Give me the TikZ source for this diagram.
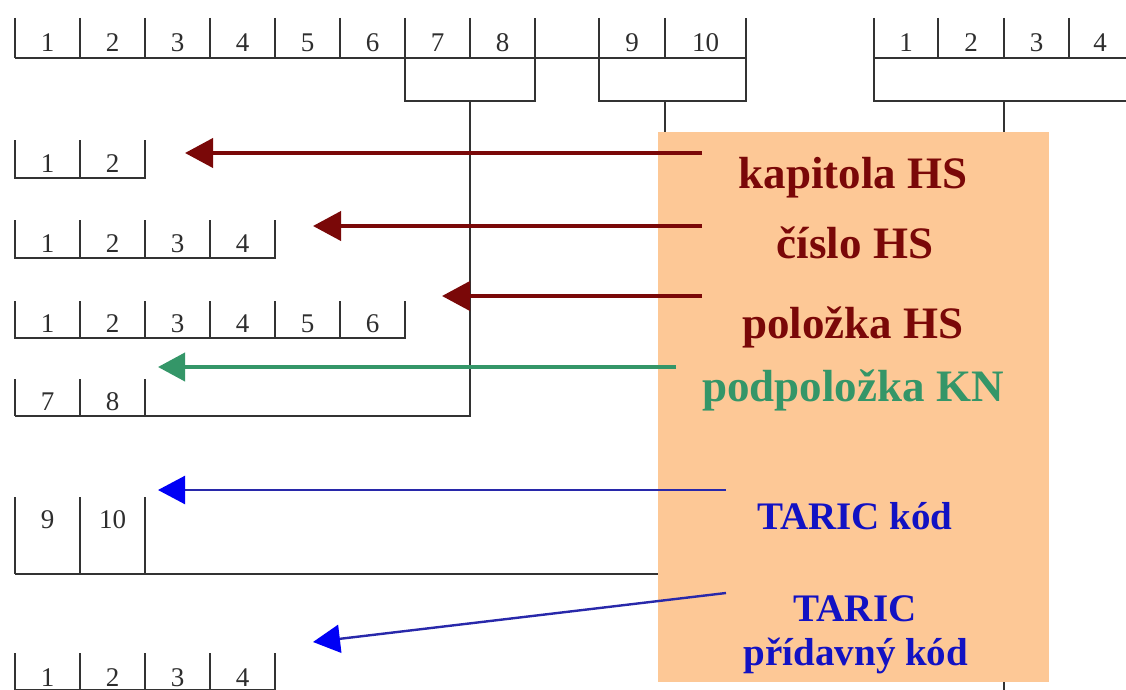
\documentclass[tikz,border=0pt]{standalone}
\usepackage{fontspec}
\setmainfont{Liberation Serif}
\usetikzlibrary{arrows.meta}
\definecolor{hsred}{RGB}{122,8,8}
\definecolor{kngreen}{RGB}{52,150,104}
\definecolor{taricblue}{RGB}{18,18,195}
\definecolor{taricline}{RGB}{40,40,170}
\definecolor{headblue}{RGB}{0,0,245}
\definecolor{boxfill}{RGB}{253,200,150}
\begin{document}
\begin{tikzpicture}[x=1pt,y=-1pt,
  ruler/.style={line width=1.4pt,draw=black!80},
  digit/.style={font=\fontsize{27}{27}\selectfont,text=black!82,anchor=base,inner sep=0pt},
  lbl/.style={font=\fontsize{45}{50}\selectfont\bfseries,anchor=base,inner sep=0pt},
  tlbl/.style={font=\fontsize{39}{44}\selectfont\bfseries,anchor=base,inner sep=0pt,text=taricblue},
  redarr/.style={draw=hsred,line width=4pt,-{Triangle[length=28pt,width=29pt]}},
  greenarr/.style={draw=kngreen,line width=4pt,-{Triangle[length=27pt,width=28pt]}},
  bluearr/.style={draw=taricline,line width=2.4pt,-{Triangle[length=27pt,width=28pt,color=headblue]}}
]
\useasboundingbox (0,0) rectangle (1126,690);
\fill[white] (0,0) rectangle (1126,690);

% ---------- top ruler (left part) ----------
\draw[ruler] (15,58) -- (746,58);
\foreach \x in {15,80,145,210,275,340,470} \draw[ruler] (\x,18) -- (\x,58);
\draw[ruler] (665,18) -- (665,58);
% bracket 7|8 with stem
\draw[ruler] (405,18) -- (405,101) -- (535,101) -- (535,18);
\draw[ruler] (470,101) -- (470,416) -- (15,416);
% bracket 9|10 with stem
\draw[ruler] (599,18) -- (599,101) -- (746,101) -- (746,18);
\draw[ruler] (665,101) -- (665,574) -- (15,574);
\foreach \x/\d in {47.5/1,112.5/2,177.5/3,242.5/4,307.5/5,372.5/6,437.5/7,502.5/8,632/9,705.5/10}
  \node[digit] (t\d) at (\x,52) {\d};

% ---------- top ruler (right part) ----------
\draw[ruler] (874,58) -- (1126,58);
\foreach \x in {938,1004,1069} \draw[ruler] (\x,18) -- (\x,58);
\draw[ruler] (874,18) -- (874,101) -- (1126,101);
\draw[ruler] (1004,101) -- (1004,690);
\foreach \x/\d in {906/1,971/2,1036.5/3,1100/4}
  \node[digit] (r\d) at (\x,52) {\d};

% ---------- left rows ----------
% row 1 : 1 2
\draw[ruler] (15,140) -- (15,178) -- (145,178) -- (145,140);
\draw[ruler] (80,140) -- (80,178);
\node[digit] (a1) at (47.5,172) {1};
\node[digit] (a2) at (112.5,172) {2};
% row 2 : 1 2 3 4
\draw[ruler] (15,220) -- (15,258) -- (275,258) -- (275,220);
\foreach \x in {80,145,210} \draw[ruler] (\x,220) -- (\x,258);
\foreach \x/\d in {47.5/1,112.5/2,177.5/3,242.5/4}
  \node[digit] (b\d) at (\x,252) {\d};
% row 3 : 1 .. 6
\draw[ruler] (15,301) -- (15,338) -- (405,338) -- (405,301);
\foreach \x in {80,145,210,275,340} \draw[ruler] (\x,301) -- (\x,338);
\foreach \x/\d in {47.5/1,112.5/2,177.5/3,242.5/4,307.5/5,372.5/6}
  \node[digit] (c\d) at (\x,332) {\d};
% row 4 : 7 8
\foreach \x in {15,80,145} \draw[ruler] (\x,379) -- (\x,416);
\node[digit] (d7) at (47.5,410) {7};
\node[digit] (d8) at (112.5,410) {8};
% row 5 : 9 10
\foreach \x in {15,80,145} \draw[ruler] (\x,497) -- (\x,574);
\node[digit] (e9) at (47.5,528) {9};
\node[digit] (e10) at (112.5,528) {10};
% row 6 : 1 2 3 4
\foreach \x in {15,80,145,210,275} \draw[ruler] (\x,653) -- (\x,690);
\draw[ruler] (15,689.5) -- (275,689.5);
\foreach \x/\d in {47.5/1,112.5/2,177.5/3,242.5/4}
  \node[digit] (f\d) at (\x,686) {\d};

% ---------- orange label panel ----------
\fill[boxfill] (658,132) rectangle (1049,682);

\node[lbl,text=hsred] (kap) at (853,188) {kapitola HS};
\node[lbl,text=hsred] (cis) at (855,258) {číslo HS};
\node[lbl,text=hsred] (pol) at (853,338) {položka HS};
\node[lbl,text=kngreen] (pod) at (853,401) {podpoložka KN};
\node[tlbl] (tk) at (855,529) {TARIC kód};
\node[tlbl] (tp1) at (855,621) {TARIC};
\node[tlbl] (tp2) at (856,665) {přídavný kód};

% ---------- arrows ----------
\coordinate (s1) at (702,153); \coordinate (e1) at (185,153);
\coordinate (s2) at (702,226); \coordinate (e2) at (313,226);
\coordinate (s3) at (702,296); \coordinate (e3) at (442,296);
\coordinate (s4) at (676,367); \coordinate (e4) at (158,367);
\coordinate (s5) at (726,490); \coordinate (e5) at (158,490);
\coordinate (s6) at (726,593); \coordinate (e6) at (313,642);
\draw[redarr] (s1) -- (e1);
\draw[redarr] (s2) -- (e2);
\draw[redarr] (s3) -- (e3);
\draw[greenarr] (s4) -- (e4);
\draw[bluearr] (s5) -- (e5);
\draw[bluearr] (s6) -- (e6);
\end{tikzpicture}
\end{document}
